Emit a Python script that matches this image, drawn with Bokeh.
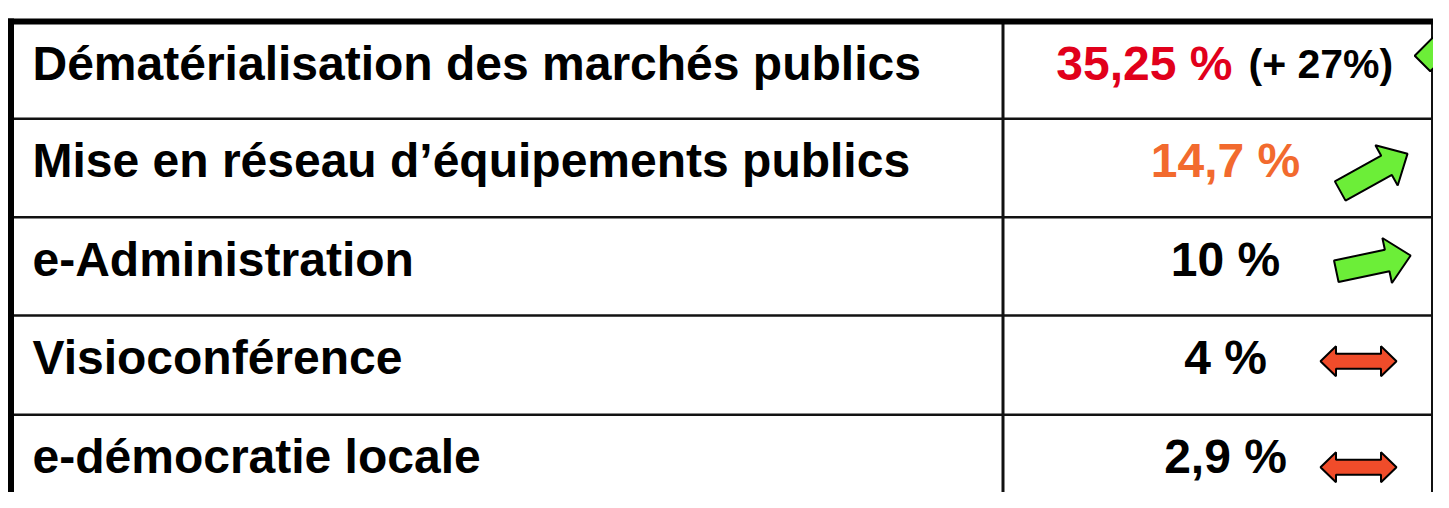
import math
from bokeh.plotting import figure
from bokeh.models import Range1d, ColumnDataSource
from bokeh.core.properties import value
from bokeh.embed import file_html
from bokeh.resources import INLINE

# ---- data ----
labels = [
    "Dématérialisation des marchés publics",
    "Mise en réseau d\u2019équipements publics",
    "e-Administration",
    "Visioconférence",
    "e-démocratie locale",
]
values = ["35,25 %", "14,7 %", "10 %", "4 %", "2,9 %"]
value_colors = ["#E1001B", "#F26A2E", "#000000", "#000000", "#000000"]
extra_note = "(+ 27%)"
trends = ["up", "up", "up", "flat", "flat"]
trend_angles = [45, 29, 12, 0, 0]

# ---- layout (reference pixel units) ----
row_edges = [21, 118.3, 216.7, 315, 414.3, 512]
col_split = 1002.5
left_x, right_x = 10.5, 1431.5
value_center = 1225
FONT = "Liberation Sans"

p = figure(width=1433, height=492, x_range=Range1d(0, 1433), y_range=Range1d(492, 0),
           output_backend="svg", toolbar_location=None, min_border=0)
p.xaxis.visible = False
p.yaxis.visible = False
p.grid.visible = False
p.outline_line_color = None
p.background_fill_color = "white"
p.border_fill_color = "white"

# grid lines
inner = row_edges[1:-1]
p.segment(x0=[left_x] * len(inner), x1=[right_x] * len(inner), y0=inner, y1=inner,
          line_color="#111111", line_width=2.6)
p.segment(x0=[col_split], x1=[col_split], y0=[row_edges[0]], y1=[row_edges[-1]],
          line_color="#111111", line_width=3)
p.segment(x0=[right_x], x1=[right_x], y0=[row_edges[0]], y1=[row_edges[-1]],
          line_color="#111111", line_width=2)
p.segment(x0=[7.5], x1=[1440], y0=[row_edges[0]], y1=[row_edges[0]],
          line_color="#000000", line_width=6)
p.segment(x0=[left_x], x1=[left_x], y0=[row_edges[0] - 3], y1=[row_edges[-1]],
          line_color="#000000", line_width=6)

# row text centres
mids = [row_edges[i] + 42 for i in range(len(labels))]

p.text(x=[32] * len(labels), y=mids, text=labels, text_font=value(FONT),
       text_font_style="bold", text_font_size="48px", text_color="#000000",
       text_align="left", text_baseline="middle")

vx = [value_center] * len(values)
va = ["center"] * len(values)
vx[0] = 1232
va[0] = "right"
src = ColumnDataSource(dict(x=vx, y=mids, t=values, c=value_colors, a=va))
p.text(x="x", y="y", text="t", text_color="c", text_align="a", source=src,
       text_font=value(FONT), text_font_style="bold", text_font_size="48px",
       text_baseline="middle")
p.text(x=[1248], y=[mids[0]], text=[extra_note], text_font=value(FONT),
       text_font_style="bold", text_font_size="41px", text_color="#000000",
       text_align="left", text_baseline="middle")

# arrows
def up_arrow(tx, ty, ang, L, sw, hw, hl):
    a = math.radians(ang)
    ux, uy = math.cos(a), -math.sin(a)
    nx, ny = math.sin(a), math.cos(a)
    bx, by = tx + ux * (L - hl), ty + uy * (L - hl)
    pts = [
        (tx - nx * sw / 2, ty - ny * sw / 2),
        (bx - nx * sw / 2, by - ny * sw / 2),
        (bx - nx * hw / 2, by - ny * hw / 2),
        (tx + ux * L, ty + uy * L),
        (bx + nx * hw / 2, by + ny * hw / 2),
        (bx + nx * sw / 2, by + ny * sw / 2),
        (tx + nx * sw / 2, ty + ny * sw / 2),
    ]
    return [q[0] for q in pts], [q[1] for q in pts]

def double_arrow(cxx, cyy, W, sh, hh, hl):
    xs = [cxx - W / 2, cxx - W / 2 + hl, cxx - W / 2 + hl, cxx + W / 2 - hl, cxx + W / 2 - hl,
          cxx + W / 2, cxx + W / 2 - hl, cxx + W / 2 - hl, cxx - W / 2 + hl, cxx - W / 2 + hl]
    ys = [cyy, cyy - hh, cyy - sh, cyy - sh, cyy - hh, cyy, cyy + hh, cyy + sh, cyy + sh, cyy + hh]
    return xs, ys

arrow_anchor = [(1422, 63), (1339.7, 190.5), (1335.8, 270.8), (1358, 360.7), (1358, 466.7)]
arrow_len = [84, 77, 76, 76, 76]

gx, gy, rx, ry = [], [], [], []
for i, tr in enumerate(trends):
    ax, ay = arrow_anchor[i]
    if tr == "up":
        xs, ys = up_arrow(ax, ay, trend_angles[i], arrow_len[i], 22, 46, 24)
        gx.append(xs); gy.append(ys)
    else:
        xs, ys = double_arrow(ax, ay, arrow_len[i], 7.5, 15, 15.5)
        rx.append(xs); ry.append(ys)

p.patches(xs=gx, ys=gy, fill_color="#6CEE38", line_color="#000000", line_width=2)
p.patches(xs=rx, ys=ry, fill_color="#F04C2A", line_color="#000000", line_width=2)

open("out.html", "w").write(file_html(p, INLINE))
